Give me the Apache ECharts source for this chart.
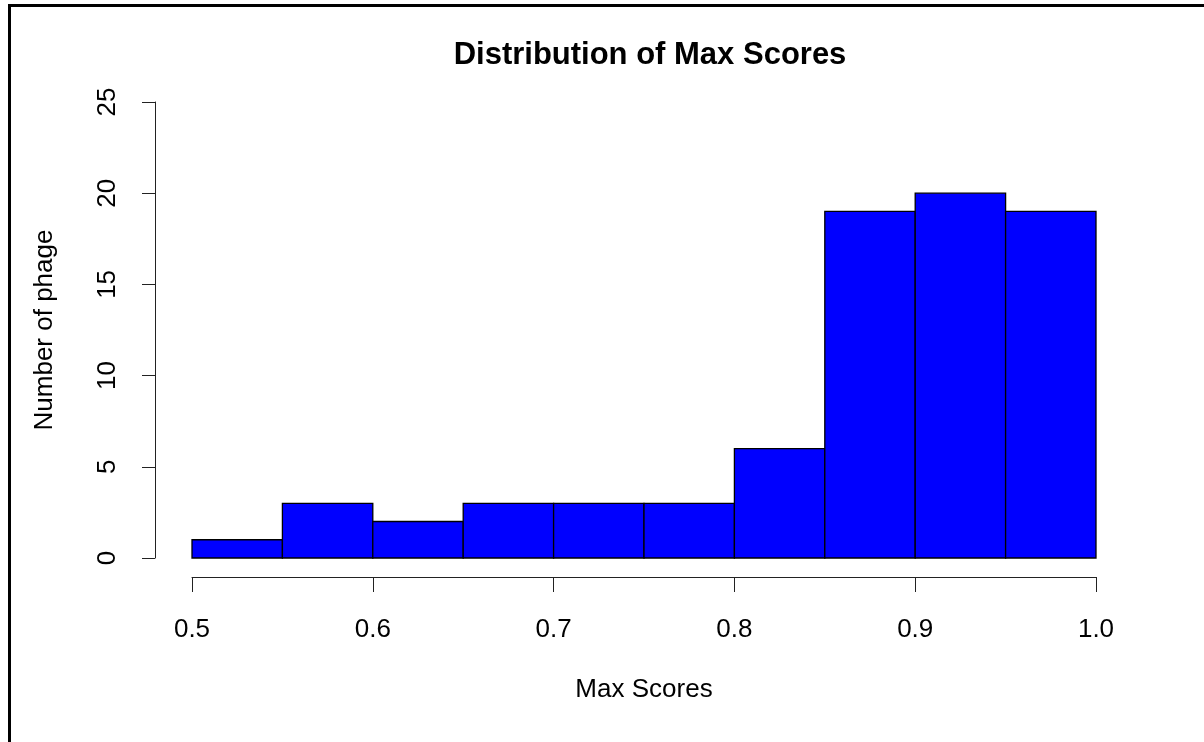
<!DOCTYPE html>
<html>
<head>
<meta charset="utf-8">
<script src="https://cdn.jsdelivr.net/npm/echarts@6/dist/echarts.min.js"></script>
<style>
  html, body { margin: 0; padding: 0; background: #fff; }
  #chart { width: 1204px; height: 742px; }
</style>
</head>
<body>
<div id="chart"></div>
<script>
// Histogram bins (left/right edges) and counts
const binStarts = [0.50, 0.55, 0.60, 0.65, 0.70, 0.75, 0.80, 0.85, 0.90, 0.95];
const binEnds   = [0.55, 0.60, 0.65, 0.70, 0.75, 0.80, 0.85, 0.90, 0.95, 1.00];
const counts    = [1, 3, 2, 3, 3, 3, 6, 19, 20, 19];
const xTicks    = [0.5, 0.6, 0.7, 0.8, 0.9, 1.0];
const yTicks    = [0, 5, 10, 15, 20, 25];

const chart = echarts.init(document.getElementById('chart'), null, { renderer: 'canvas' });
const FONT = 'Liberation Sans, Arial, sans-serif';

const binData = binStarts.map((s, i) => [s, binEnds[i], counts[i]]);

chart.setOption({
  animation: false,
  backgroundColor: '#ffffff',
  title: {
    text: 'Distribution of Max Scores',
    left: 645,
    top: 35,
    textAlign: 'center',
    textStyle: { fontFamily: FONT, fontSize: 31, fontWeight: 'bold', color: '#000' }
  },
  grid: { left: 192, right: 108, top: 102, bottom: 184 },
  xAxis: {
    type: 'value',
    min: 0.5, max: 1.0, interval: 0.1,
    offset: 19,
    name: 'Max Scores',
    nameLocation: 'middle',
    nameGap: 100,
    nameTextStyle: { fontFamily: FONT, fontSize: 26, color: '#000' },
    axisLine: { show: true, onZero: false, lineStyle: { color: '#222', width: 1 } },
    axisTick: { show: true, length: 15, lineStyle: { color: '#222', width: 1 } },
    axisLabel: {
      fontFamily: FONT, fontSize: 26, color: '#000', margin: 40,
      formatter: v => { const t = xTicks.find(x => Math.abs(x - v) < 1e-9); return t === undefined ? '' : t.toFixed(1); }
    },
    splitLine: { show: false }
  },
  yAxis: {
    type: 'value',
    min: 0, max: 25, interval: 5,
    offset: 37,
    name: 'Number of phage',
    nameLocation: 'middle',
    nameGap: 97,
    nameTextStyle: { fontFamily: FONT, fontSize: 26, color: '#000' },
    axisLine: { show: true, lineStyle: { color: '#222', width: 1 } },
    axisTick: { show: true, length: 13, lineStyle: { color: '#222', width: 1 } },
    axisLabel: {
      fontFamily: FONT, fontSize: 26, color: '#000', margin: 34, rotate: 90,
      formatter: v => yTicks.includes(v) ? String(v) : ''
    },
    splitLine: { show: false }
  },
  series: [{
    type: 'custom',
    data: binData,
    encode: { x: [0, 1], y: 2 },
    renderItem: (params, api) => {
      const p0 = api.coord([api.value(0), api.value(2)]);
      const p1 = api.coord([api.value(1), 0]);
      return {
        type: 'rect',
        shape: { x: p0[0], y: p0[1], width: p1[0] - p0[0], height: p1[1] - p0[1] },
        style: { fill: '#0000ff', stroke: '#000', lineWidth: 1.3 }
      };
    }
  }],
  graphic: [
    { type: 'rect', shape: { x: 8, y: 4, width: 1196, height: 3 }, style: { fill: '#000' }, z: 100 },
    { type: 'rect', shape: { x: 8, y: 4, width: 3, height: 738 }, style: { fill: '#000' }, z: 100 }
  ]
});
</script>
</body>
</html>
